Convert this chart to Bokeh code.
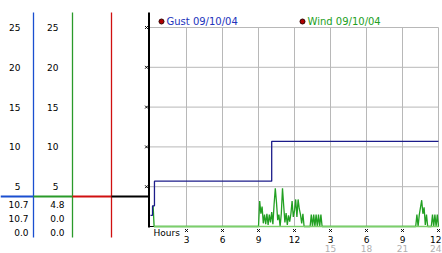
from bokeh.plotting import figure
from bokeh.models import Range1d
from bokeh.core.properties import value
from bokeh.embed import file_html
from bokeh.resources import INLINE

# ---------------- data ----------------
hour_ticks = [3, 6, 9, 12, 15, 18, 21, 24]
hour_labels = ["3", "6", "9", "12", "3", "6", "9", "12"]
hour2_ticks = [15, 18, 21, 24]
hour2_labels = ["15", "18", "21", "24"]
speed_ticks = [5, 10, 15, 20, 25]
speed_labels = ["5", "10", "15", "20", "25"]

gust_hours = [0.0, 0.17, 0.33, 10.1, 24.0]
gust_speed = [1.4, 2.6, 5.7, 10.7, 10.7]

wind_hours = [0.22, 0.3, 9.0, 9.1, 9.2, 9.3, 9.4, 9.5, 9.6, 9.7, 9.8, 9.9,
              10.0, 10.1, 10.2, 10.3, 10.4, 10.5, 10.6, 10.7, 10.8, 10.9,
              11.0, 11.1, 11.2, 11.3, 11.4, 11.5, 11.6, 11.7, 11.8, 11.9,
              12.0, 12.1, 12.2, 12.3, 12.4, 12.5, 12.6, 12.7, 12.8, 13.3,
              13.4, 13.5, 13.6, 13.7, 13.8, 13.9, 14.0, 14.1, 14.2, 14.3, 22.1,
              22.2, 22.3, 22.4, 22.5, 22.6, 22.7, 22.8, 22.9, 23.0, 23.1, 23.4,
              23.5, 23.6, 23.7, 23.8, 23.9, 24.0]
wind_speed = [2.6, 0.0, 0.0, 3.2, 1.6, 2.5, 0.4, 1.5, 0.3, 1.6, 0.2, 1.5,
              0.5, 1.8, 0.3, 2.8, 4.8, 3.0, 0.8, 1.5, 0.0, 1.6,
              4.8, 2.6, 0.5, 1.7, 0.2, 1.4, 0.6, 1.6, 3.2, 1.2,
              2.0, 3.4, 1.2, 3.4, 2.2, 1.5, 0.4, 1.6, 0.0, 0.0,
              1.5, 0.0, 1.5, 0.0, 1.5, 0.0, 1.5, 0.0, 1.5, 0.0, 0.0,
              1.5, 0.0, 1.5, 2.4, 3.3, 1.6, 2.4, 0.2, 1.5, 0.0, 0.0,
              1.5, 0.0, 1.5, 0.0, 1.5, 0.0]

gust_readout = ["10.7", "10.7", "0.0"]
wind_readout = ["4.8", "0.0", "0.0"]
legend_names = ["Gust 09/10/04", "Wind 09/10/04"]

# ---------------- layout helpers (pixel -> data) ----------------
W, H = 442, 253
PXH = 12.0            # pixels per hour
SY = 199.0 / 25.0     # pixels per speed unit
X0 = -150.0 / PXH
X1 = X0 + W / PXH
Y1 = 226.0 / SY
Y0 = Y1 - H / SY

def dx(px):
    return X0 + px / PXH

def dy(py):
    return Y1 - py / SY

FONT = value("DejaVu Sans")

p = figure(width=W, height=H, output_backend="svg", toolbar_location=None,
           min_border=0, x_axis_location=None, y_axis_location=None,
           x_range=Range1d(X0, X1), y_range=Range1d(Y0, Y1))
p.grid.visible = False
p.outline_line_color = None
p.background_fill_color = "white"
p.border_fill_color = "white"

GRID = "#b8b8b8"
# grid
p.segment(x0=[dx(148)] * len(speed_ticks), x1=[24.0] * len(speed_ticks),
          y0=speed_ticks, y1=speed_ticks, line_color=GRID, line_width=1)
p.segment(x0=hour_ticks, x1=hour_ticks, y0=[0] * len(hour_ticks),
          y1=[25] * len(hour_ticks), line_color=GRID, line_width=1)

# left panel columns
BLUE, GREEN, RED = "#1a4fd0", "#2a9a2a", "#d01010"
for xpx, c in [(33, BLUE), (72, GREEN), (111, RED)]:
    p.segment(x0=[dx(xpx)], x1=[dx(xpx)], y0=[dy(12)], y1=[dy(237)],
              line_color=c, line_width=1.3)
# cursor line
for (a, b), c in [((0, 33), BLUE), ((33, 72), GREEN), ((72, 111), RED), ((111, 149), "black")]:
    p.segment(x0=[dx(a)], x1=[dx(b)], y0=[dy(196)], y1=[dy(196)],
              line_color=c, line_width=2.2)

# main axis lines
p.segment(x0=[dx(148.5)], x1=[dx(148.5)], y0=[dy(12)], y1=[dy(227)],
          line_color="black", line_width=2)
p.segment(x0=[dx(148)], x1=[24.0], y0=[0], y1=[0], line_color="black", line_width=1)

# data
p.line(wind_hours, wind_speed, line_color="#22a022", line_width=1.3)
p.segment(x0=[0.3], x1=[24.0], y0=[0], y1=[0], line_color="#7ccf6a", line_width=1.5)
p.step(gust_hours, gust_speed, mode="after", line_color="#1c1c8a", line_width=1.3)

# tick markers
p.scatter(x=[dx(146)] * len(speed_ticks), y=speed_ticks, marker="x", size=4,
          line_color="black", line_width=1)
p.scatter(x=hour_ticks, y=[dy(230)] * len(hour_ticks), marker="x", size=4,
          line_color="black", line_width=1)

# y labels (two columns)
p.text(x=[dx(20)] * len(speed_ticks), y=speed_ticks, text=speed_labels,
       text_align="right", text_baseline="middle", text_font=FONT,
       text_font_size="9px", text_color="black")
p.text(x=[dx(58)] * len(speed_ticks), y=speed_ticks, text=speed_labels,
       text_align="right", text_baseline="middle", text_font=FONT,
       text_font_size="9px", text_color="black")
rows = [dy(204), dy(218), dy(232)]
p.text(x=[dx(28)] * 3, y=rows, text=gust_readout, text_align="right",
       text_baseline="middle", text_font=FONT, text_font_size="9px", text_color="black")
p.text(x=[dx(64)] * 3, y=rows, text=wind_readout, text_align="right",
       text_baseline="middle", text_font=FONT, text_font_size="9px", text_color="black")

# x labels (last one right-aligned so it stays inside the picture)
p.text(x=hour_ticks[:-1], y=[dy(239)] * (len(hour_ticks) - 1), text=hour_labels[:-1],
       text_align="center", text_baseline="middle", text_font=FONT,
       text_font_size="9px", text_color="black")
p.text(x=[dx(441)], y=[dy(239)], text=hour_labels[-1:],
       text_align="right", text_baseline="middle", text_font=FONT,
       text_font_size="9px", text_color="black")
p.text(x=hour2_ticks[:-1], y=[dy(248)] * (len(hour2_ticks) - 1), text=hour2_labels[:-1],
       text_align="center", text_baseline="middle", text_font=FONT,
       text_font_size="9px", text_color="#b0b0b0")
p.text(x=[dx(441)], y=[dy(248)], text=hour2_labels[-1:],
       text_align="right", text_baseline="middle", text_font=FONT,
       text_font_size="9px", text_color="#b0b0b0")
p.text(x=[dx(153)], y=[dy(232)], text=["Hours"], text_align="left",
       text_baseline="middle", text_font=FONT, text_font_size="9px", text_color="black")

# legend
p.scatter(x=[dx(161), dx(302)], y=[dy(21), dy(21)], marker="circle", size=5,
          fill_color="#b00000", line_color="#300000", line_width=1)
p.text(x=[dx(166), dx(307)], y=[dy(21), dy(21)], text=legend_names,
       text_align="left", text_baseline="middle", text_font=FONT,
       text_font_size="10px", text_color=["#2233bb", "#22a022"])

open("out.html", "w").write(file_html(p, INLINE))
